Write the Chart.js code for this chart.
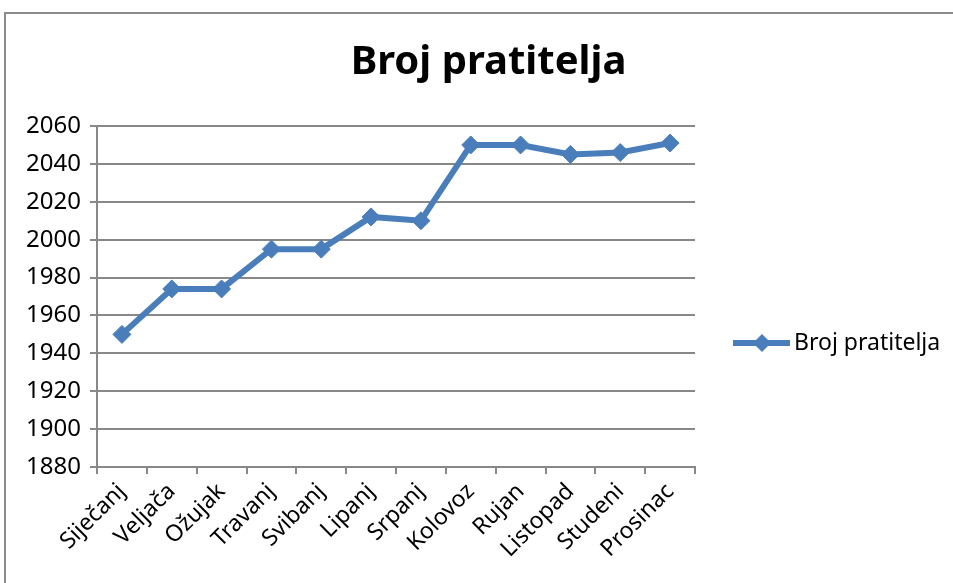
<!DOCTYPE html>
<html>
<head>
<meta charset="utf-8">
<script src="https://cdn.jsdelivr.net/npm/chart.js@4"></script>
<style>
  html, body { margin: 0; padding: 0; background: #fff; overflow: hidden; }
  #wrap { position: relative; width: 953px; height: 583px; }
  #frame { position: absolute; left: 4px; top: 12px; width: 970px; height: 600px;
           border: 2px solid #8c8c8c; pointer-events: none; }
</style>
</head>
<body>
<div id="wrap">
  <canvas id="followersChart" width="953" height="583"></canvas>
  <div id="frame"></div>
</div>
<script>
const months = ['Siječanj', 'Veljača', 'Ožujak', 'Travanj', 'Svibanj', 'Lipanj',
                'Srpanj', 'Kolovoz', 'Rujan', 'Listopad', 'Studeni', 'Prosinac'];
const followers = [1950, 1974, 1974, 1995, 1995, 2012, 2010, 2050, 2050, 2045, 2046, 2051];
const seriesName = 'Broj pratitelja';
const yMin = 1880;
const yMax = 2060;
const yStep = 20;

const lineBlue = '#4a7ebb';
const axisGray = '#888888';
const fontFamily = '"Noto Sans", "DejaVu Sans", sans-serif';

// legend on the right, drawn like the Excel one (line + diamond + text)
const sideLegend = {
    id: 'sideLegend',
    afterDraw(chart) {
        const ctx = chart.ctx;
        const ds = chart.data.datasets[0];
        const area = chart.chartArea;
        const x0 = area.right + 38;
        const y = 343;
        ctx.save();
        ctx.strokeStyle = ds.borderColor;
        ctx.lineWidth = ds.borderWidth;
        ctx.beginPath();
        ctx.moveTo(x0, y);
        ctx.lineTo(x0 + 57, y);
        ctx.stroke();
        ctx.fillStyle = ds.backgroundColor;
        ctx.beginPath();
        ctx.moveTo(x0 + 29, y - 9);
        ctx.lineTo(x0 + 38, y);
        ctx.lineTo(x0 + 29, y + 9);
        ctx.lineTo(x0 + 20, y);
        ctx.closePath();
        ctx.fill();
        ctx.fillStyle = '#000';
        ctx.font = '23px ' + fontFamily;
        ctx.textBaseline = 'middle';
        ctx.fillText(ds.label, x0 + 61, y);
        ctx.restore();
    }
};

const ctx = document.getElementById('followersChart').getContext('2d');
new Chart(ctx, {
    type: 'line',
    data: {
        labels: months,
        datasets: [{
            label: seriesName,
            data: followers,
            borderColor: lineBlue,
            backgroundColor: lineBlue,
            borderWidth: 6,
            pointStyle: 'rectRot',
            pointRadius: 9,
            pointBorderWidth: 1,
            tension: 0,
            yAxisID: 'y'
        }]
    },
    options: {
        responsive: false,
        animation: false,
        layout: { padding: { left: 24, top: 12, right: 0, bottom: 0 } },
        plugins: {
            legend: { display: false },
            tooltip: { enabled: false },
            title: {
                display: true,
                text: seriesName,
                color: '#000',
                font: { family: fontFamily, size: 40, weight: 'bold' },
                padding: { top: 27, bottom: 39 }
            }
        },
        scales: {
            x: {
                offset: true,
                grid: {
                    display: true,
                    offset: true,
                    drawOnChartArea: false,
                    drawTicks: true,
                    tickLength: 7,
                    color: axisGray,
                    lineWidth: 2
                },
                border: { color: axisGray, width: 2 },
                ticks: {
                    color: '#000',
                    font: { family: fontFamily, size: 23 },
                    minRotation: 45,
                    maxRotation: 45,
                    autoSkip: false,
                    padding: 4
                },
                afterFit(scale) { scale.height = 116; }
            },
            y: {
                position: 'left',
                min: yMin,
                max: yMax,
                grid: {
                    color: axisGray,
                    lineWidth: 2,
                    drawTicks: true,
                    tickLength: 7
                },
                border: { color: axisGray, width: 2 },
                ticks: {
                    stepSize: yStep,
                    color: '#000',
                    font: { family: fontFamily, size: 24 },
                    padding: 9,
                    callback: v => String(v)
                },
                afterFit(scale) { scale.width = 73; }
            },
            legendSpace: {
                position: 'right',
                display: true,
                grid: { display: false },
                border: { display: false },
                ticks: { display: false },
                afterFit(scale) { scale.width = 258; }
            }
        }
    },
    plugins: [sideLegend]
});
</script>
</body>
</html>
